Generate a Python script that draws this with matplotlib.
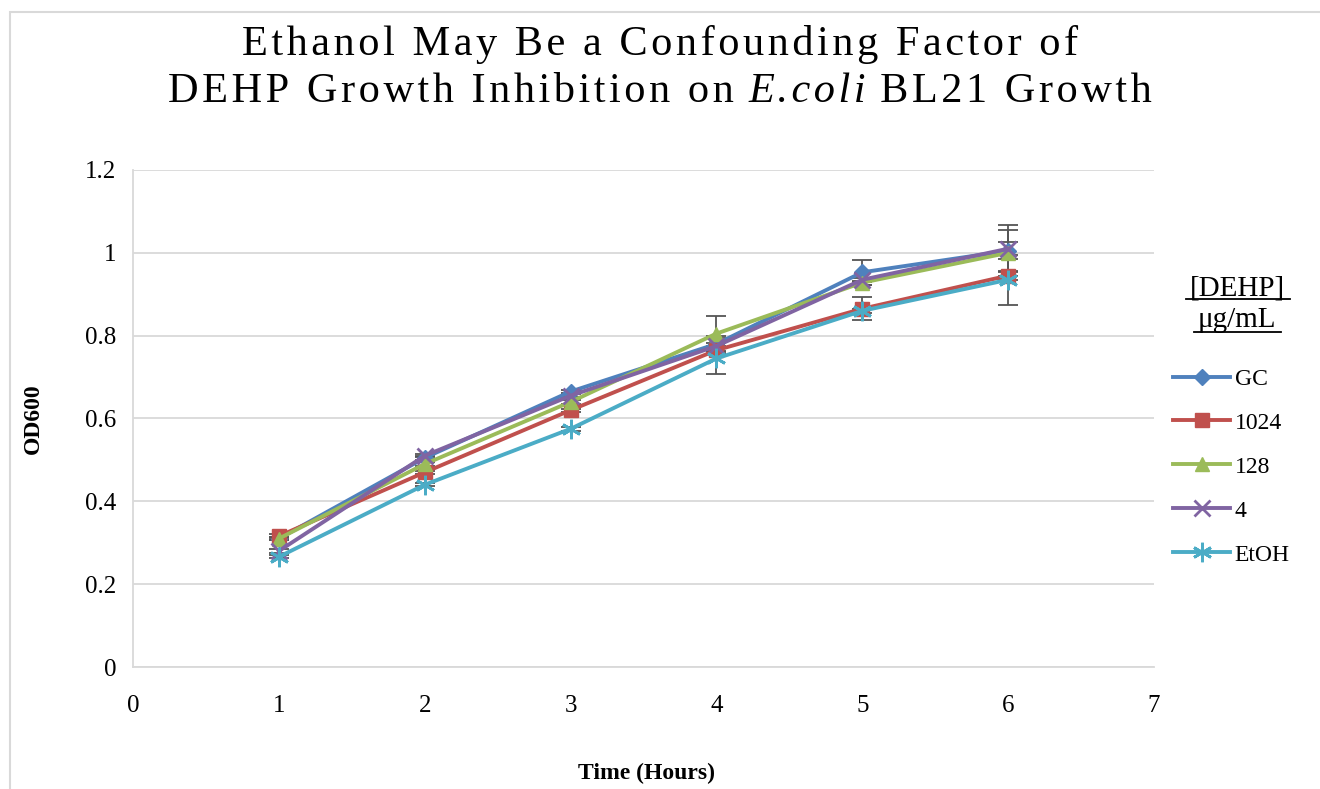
import matplotlib.pyplot as plt
from matplotlib.patches import Rectangle

hours = [1, 2, 3, 4, 5, 6]
series_names = ['GC', '1024', '128', '4', 'EtOH']
gc = [0.31, 0.505, 0.665, 0.78, 0.953, 1.005]
c1024 = [0.316, 0.47, 0.62, 0.765, 0.865, 0.945]
c128 = [0.31, 0.49, 0.64, 0.805, 0.928, 1.0]
c4 = [0.28, 0.51, 0.655, 0.775, 0.935, 1.01]
etoh = [0.266, 0.44, 0.575, 0.745, 0.86, 0.935]

err_gc = [0.004, 0.004, 0.004, 0.02, 0.03, 0.02]
err_1024 = [0.004, 0.004, 0.004, 0.01, 0.028, 0.01]
err_128 = [0.004, 0.004, 0.004, 0.042, 0.005, 0.055]
err_4 = [0.004, 0.004, 0.004, 0.02, 0.005, 0.057]
err_etoh = [0.004, 0.004, 0.004, 0.038, 0.005, 0.06]

x_ticks = [0, 1, 2, 3, 4, 5, 6, 7]
y_ticks = [0, 0.2, 0.4, 0.6, 0.8, 1.0, 1.2]
y_tick_labels = ['0', '0.2', '0.4', '0.6', '0.8', '1', '1.2']

title_line1 = [('Ethanol May Be a Confounding Factor of', 'normal')]
title_line2 = [('DEHP Growth Inhibition on ', 'normal'), ('E.coli', 'italic'),
               (' BL21 Growth', 'normal')]

plt.rcParams['font.family'] = ['Liberation Serif', 'DejaVu Serif']

W, H = 1320, 789
fig = plt.figure(figsize=(13.2, 7.89), dpi=100)
fig.patches.append(Rectangle((10 / W, -0.1), 1.2, (H - 12) / H + 0.1,
                             transform=fig.transFigure, fill=False,
                             edgecolor='#d9d9d9', linewidth=1.5))
ax = fig.add_axes([133 / W, 122 / H, (1154 - 133) / W, (667 - 170) / H])

values = [gc, c1024, c128, c4, etoh]
errors = [err_gc, err_1024, err_128, err_4, err_etoh]
colors = ['#4F81BD', '#C0504D', '#9BBB59', '#8064A2', '#4BACC6']
markers = ['D', 's', '^', 'x', (6, 2, 0)]
sizes = [8, 10, 10, 12, 14]

for name, v, e, c, m, s in zip(series_names, values, errors, colors, markers, sizes):
    ax.errorbar(hours, v, yerr=e, fmt='none', ecolor='#555555', elinewidth=1.3,
                capsize=7, capthick=1.3, zorder=2)
    ax.plot(hours, v, color=c, linewidth=2.8, marker=m, markersize=s,
            markeredgewidth=2 if m in ('x', (6, 2, 0)) else 1,
            markeredgecolor=c, label=name, zorder=3)

ax.set_xlim(0, 7)
ax.set_ylim(0, 1.2)
ax.set_xticks(x_ticks)
ax.set_yticks(y_ticks)
ax.set_yticklabels(y_tick_labels)
ax.tick_params(length=0, labelsize=18, pad=12)
ax.tick_params(axis='x', pad=20)
ax.grid(axis='y', color='#d9d9d9', linewidth=1.3)
ax.set_axisbelow(True)
for side in ['top', 'right']:
    ax.spines[side].set_visible(False)
for side in ['left', 'bottom']:
    ax.spines[side].set_color('#d9d9d9')
    ax.spines[side].set_linewidth(1.3)

ax.set_ylabel('OD600', fontsize=17, fontweight='bold', labelpad=30)
fig.text(647 / W, 1 - 773 / H, 'Time (Hours)', ha='center', va='center',
         fontsize=17, fontweight='bold')


# title: spaced letters, mixed upright / italic pieces centred on the figure
renderer = fig.canvas.get_renderer()


def spaced(s):
    return '\u200a'.join(s)


def title_line(y_px, segments, size):
    pieces = []
    for txt, style in segments:
        t = fig.text(0, 1 - y_px / H, spaced(txt), fontsize=size, style=style,
                     ha='left', va='center')
        pieces.append(t)
    widths = [p.get_window_extent(renderer).width for p in pieces]
    x = (W - sum(widths)) / 2
    for p, w in zip(pieces, widths):
        p.set_x(x / W)
        x += w


title_line(45, title_line1, 30.5)
title_line(92, title_line2, 30.5)

# legend title with underlines
fig.text(1237 / W, 1 - 296 / H, '[DEHP]', ha='center', va='baseline', fontsize=21)
fig.text(1237 / W, 1 - 327 / H, 'μg/mL', ha='center', va='baseline', fontsize=21)
fig.add_artist(plt.Line2D([1186 / W, 1290 / W], [1 - 299 / H, 1 - 299 / H],
                          transform=fig.transFigure, color='black', linewidth=1.3))
fig.add_artist(plt.Line2D([1194 / W, 1281 / W], [1 - 332 / H, 1 - 332 / H],
                          transform=fig.transFigure, color='black', linewidth=1.3))

leg = ax.legend(loc='upper left', bbox_to_anchor=(1152 / W, 1 - 347 / H),
                bbox_transform=fig.transFigure, frameon=False, fontsize=17,
                handlelength=2.4, handletextpad=0.2, labelspacing=0.95)

fig.savefig('out.png', dpi=100)
